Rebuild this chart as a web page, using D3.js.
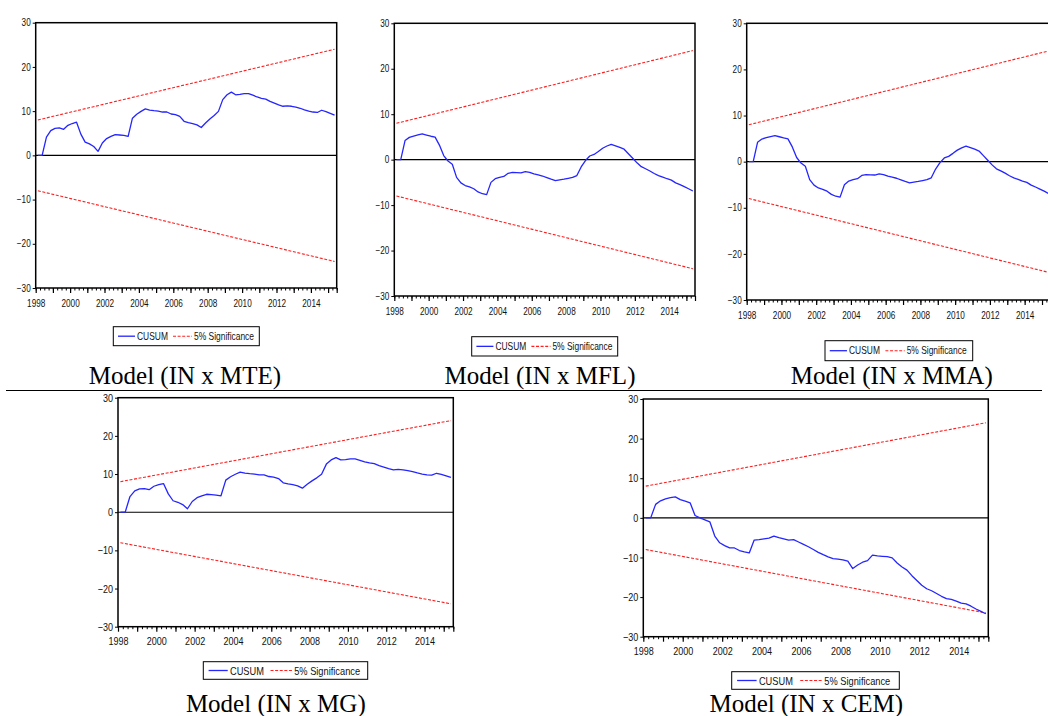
<!DOCTYPE html>
<html><head><meta charset="utf-8">
<script src="https://cdn.jsdelivr.net/npm/d3@7"></script>
<style>
body{margin:0;background:#fff}
svg{display:block}
.tk text,.lg text{font-family:"Liberation Sans",Arial,sans-serif;fill:#111}
.ttl{font-family:"Liberation Serif","Times New Roman",serif;fill:#000}
</style>
</head><body>
<svg id="c" width="1048" height="716"></svg>
<script>
// ---- data ----
const startYear = 1998, endYear = 2015.5;
// quarterly observations 1998Q1 .. 2015Q2 (plotted mid-quarter)
const quarterDates = d3.range(70).map(i => startYear + 0.125 + 0.25 * i);
const cusumMTE = [0,0,4.1,5.6,6.1,6.2,5.9,6.8,7.2,7.5,4.8,3.0,2.6,2.0,0.9,2.8,3.8,4.3,4.7,4.6,
  4.5,4.3,8.4,9.3,9.95,10.5,10.25,10.1,10.0,9.8,9.8,9.35,9.2,8.8,7.7,7.4,7.2,6.9,6.3,7.3,
  8.2,9.0,9.95,12.6,13.7,14.3,13.7,13.8,13.95,13.95,13.6,13.2,12.9,12.7,12.2,11.8,11.4,11.1,11.2,11.1,
  10.9,10.65,10.3,10.0,9.8,9.7,10.2,9.9,9.5,9.1];
const cusumMFL = [0,0,4.2,4.9,5.2,5.45,5.65,5.4,5.15,4.95,3.2,0.9,-0.3,-1.0,-3.9,-5.1,-5.7,-6.0,-6.4,-7.1,
  -7.5,-7.7,-5.0,-4.2,-3.9,-3.7,-3.0,-2.8,-2.85,-2.9,-2.65,-2.8,-3.15,-3.35,-3.6,-3.95,-4.3,-4.6,-4.45,-4.3,
  -4.1,-3.9,-3.5,-1.6,-0.2,0.8,1.15,1.8,2.5,3.0,3.35,3.05,2.7,2.3,1.3,0.3,-0.7,-1.55,-2.0,-2.5,
  -3.05,-3.5,-3.85,-4.2,-4.5,-5.1,-5.5,-5.95,-6.4,-6.9];
const cusumMMA = [0,0,4.2,4.9,5.2,5.45,5.65,5.4,5.15,4.95,3.2,0.9,-0.3,-1.0,-3.9,-5.1,-5.7,-6.0,-6.4,-7.1,
  -7.5,-7.7,-5.0,-4.2,-3.9,-3.7,-3.0,-2.8,-2.85,-2.9,-2.65,-2.8,-3.15,-3.35,-3.6,-3.95,-4.3,-4.6,-4.45,-4.3,
  -4.1,-3.9,-3.5,-1.6,-0.2,0.8,1.15,1.8,2.5,3.0,3.35,3.05,2.7,2.3,1.3,0.3,-0.7,-1.55,-2.0,-2.5,
  -3.05,-3.5,-3.85,-4.2,-4.5,-5.1,-5.5,-5.95,-6.4,-6.9];
const cusumMG = [0,0,4.1,5.6,6.1,6.2,5.9,6.8,7.2,7.5,4.8,3.0,2.6,2.0,0.9,2.8,3.8,4.3,4.7,4.6,
  4.5,4.3,8.4,9.3,9.95,10.5,10.25,10.1,10.0,9.8,9.8,9.35,9.2,8.8,7.7,7.4,7.2,6.9,6.3,7.3,
  8.2,9.0,9.95,12.6,13.7,14.3,13.7,13.8,13.95,13.95,13.6,13.2,12.9,12.7,12.2,11.8,11.4,11.1,11.2,11.1,
  10.9,10.65,10.3,10.0,9.8,9.7,10.2,9.9,9.5,9.1];
const cusumCEM = [0,0,3.4,4.3,4.8,5.1,5.3,4.6,4.2,3.8,0.6,0.0,-0.5,-1.0,-4.6,-6.3,-7.0,-7.6,-7.6,-8.25,
  -8.6,-8.85,-5.6,-5.5,-5.3,-5.1,-4.6,-5.0,-5.3,-5.6,-5.5,-6.1,-6.7,-7.3,-8.0,-8.7,-9.3,-9.85,-10.3,-10.4,
  -10.6,-10.9,-12.8,-11.9,-11.2,-10.8,-9.4,-9.6,-9.7,-9.8,-10.1,-11.4,-12.4,-13.2,-14.6,-15.8,-17.0,-17.9,-18.4,-19.1,
  -19.8,-20.4,-20.6,-21.0,-21.5,-21.7,-22.3,-23.0,-23.6,-24.2];
// 5% significance bounds: value at first and last observation
const bandFirst = 8, bandLast = 24;
const yTicks = [30, 20, 10, 0, -10, -20, -30];
const xTickLabels = [1998, 2000, 2002, 2004, 2006, 2008, 2010, 2012, 2014];
const titles = ["Model (IN x MTE)", "Model (IN x MFL)", "Model (IN x MMA)", "Model (IN x MG)", "Model (IN x CEM)"];
const legendLabels = ["CUSUM", "5% Significance"];

// ---- layout ----
const panels = [
  {title: titles[0], data: cusumMTE, x: 35.7, y: 22.7, w: 301, h: 265.3, fs: 10, lg: [113.3, 326.7, 146, 19], tx: 185, ty: 384},
  {title: titles[1], data: cusumMFL, x: 394.3, y: 23.3, w: 300.7, h: 272.7, fs: 10, lg: [471.7, 336.7, 146, 19.3], tx: 540, ty: 384},
  {title: titles[2], data: cusumMMA, x: 746.7, y: 23.3, w: 304, h: 276.7, fs: 10, lg: [825, 340.7, 147.7, 20], tx: 891.7, ty: 384},
  {title: titles[3], data: cusumMG, x: 118, y: 397.7, w: 335.3, h: 229, fs: 11, lg: [203.3, 661.7, 164.4, 17.6], tx: 275.8, ty: 712},
  {title: titles[4], data: cusumCEM, x: 643.3, y: 399, w: 345, h: 237.7, fs: 11, lg: [731.7, 671.7, 167.6, 17.6], tx: 806.3, ty: 712}
];
const BLUE = "#2525ff", RED = "#ff1f1f";
const NARROW = 0.82;

const svg = d3.select("#c");

// separator line
svg.append("line").attr("x1", 6).attr("x2", 1042).attr("y1", 390.5).attr("y2", 390.5)
  .attr("stroke", "#000").attr("stroke-width", 1.2);

panels.forEach(p => {
  const g = svg.append("g").attr("transform", `translate(${p.x},${p.y})`);
  const x = d3.scaleLinear().domain([startYear, endYear]).range([0, p.w]);
  const y = d3.scaleLinear().domain([-30, 30]).range([p.h, 0]);

  // y axis
  const ya = g.append("g").attr("class", "tk")
    .call(d3.axisLeft(y).tickValues(yTicks).tickSize(3).tickPadding(2).tickFormat(d3.format("d")));
  ya.select(".domain").remove();
  ya.selectAll("text").attr("font-size", p.fs).attr("font-family", null)
    .attr("x", 0).attr("transform", `translate(-5,0) scale(${NARROW},1)`);
  ya.selectAll("line").attr("stroke", "#000");

  // x axis: quarter ticks, year ticks, labels
  const quarterTicks = d3.range(Math.round((endYear - startYear) * 4) + 1).map(i => startYear + i * 0.25);
  const yearTicks = d3.range(startYear, Math.floor(endYear) + 1);
  const xa1 = g.append("g").attr("transform", `translate(0,${p.h})`)
    .call(d3.axisBottom(x).tickValues(quarterTicks).tickSize(2.5).tickFormat(""));
  xa1.select(".domain").remove();
  xa1.selectAll("line").attr("stroke", "#000");
  const xa2 = g.append("g").attr("transform", `translate(0,${p.h})`)
    .call(d3.axisBottom(x).tickValues(yearTicks.concat([endYear])).tickSize(5).tickFormat(""));
  xa2.select(".domain").remove();
  xa2.selectAll("line").attr("stroke", "#000").attr("stroke-width", 1.2);
  const xa3 = g.append("g").attr("class", "tk").attr("transform", `translate(0,${p.h})`)
    .call(d3.axisBottom(x).tickValues(xTickLabels).tickSize(5).tickPadding(p.fs === 10 ? 6.5 : 5.5).tickFormat(d3.format("d")));
  xa3.select(".domain").remove();
  xa3.selectAll("line").remove();
  xa3.selectAll("text").attr("font-size", p.fs).attr("font-family", null)
    .attr("transform", `scale(${NARROW},1)`);

  // clip for lines
  const cid = "clip" + Math.round(p.x);
  g.append("clipPath").attr("id", cid).append("rect").attr("width", p.w).attr("height", p.h);
  const inner = g.append("g").attr("clip-path", `url(#${cid})`);

  // zero line
  inner.append("line").attr("x1", 0).attr("x2", p.w).attr("y1", y(0)).attr("y2", y(0))
    .attr("stroke", "#000").attr("stroke-width", 1.1);

  // significance bounds
  const t0 = quarterDates[0], t1 = quarterDates[quarterDates.length - 1];
  const line = d3.line().x(d => x(d[0])).y(d => y(d[1]));
  [[[t0, bandFirst], [t1, bandLast]], [[t0, -bandFirst], [t1, -bandLast]]].forEach(b => {
    inner.append("path").attr("d", line(b)).attr("fill", "none")
      .attr("stroke", RED).attr("stroke-width", 1.1).attr("stroke-dasharray", "3,1.6");
  });

  // CUSUM
  inner.append("path").datum(p.data.map((v, i) => [quarterDates[i], v]))
    .attr("d", line).attr("fill", "none").attr("stroke", BLUE).attr("stroke-width", 1.3)
    .attr("stroke-linejoin", "round");

  // frame
  g.append("rect").attr("width", p.w).attr("height", p.h).attr("fill", "none")
    .attr("stroke", "#000").attr("stroke-width", 1.5);

  // legend
  const [lx, ly, lw, lh] = p.lg;
  const k = lw / 146;
  const lg = svg.append("g").attr("class", "lg").attr("transform", `translate(${lx},${ly})`);
  lg.append("rect").attr("width", lw).attr("height", lh).attr("fill", "#fff")
    .attr("stroke", "#000").attr("stroke-width", 1);
  const cy = lh / 2;
  lg.append("line").attr("x1", 4.7 * k).attr("x2", 21.7 * k).attr("y1", cy).attr("y2", cy)
    .attr("stroke", BLUE).attr("stroke-width", 1.3);
  lg.append("text").attr("transform", `translate(${23.7 * k},${cy}) scale(${NARROW},1)`).attr("dy", "0.36em")
    .attr("font-size", p.fs + 0.3).text(legendLabels[0]);
  lg.append("line").attr("x1", 59.7 * k).attr("x2", 78.7 * k).attr("y1", cy).attr("y2", cy)
    .attr("stroke", RED).attr("stroke-width", 1.1).attr("stroke-dasharray", "3,1.6");
  lg.append("text").attr("transform", `translate(${80.7 * k},${cy}) scale(${NARROW},1)`).attr("dy", "0.36em")
    .attr("font-size", p.fs + 0.3).text(legendLabels[1]);

  // title
  svg.append("text").attr("class", "ttl").attr("x", p.tx).attr("y", p.ty)
    .attr("text-anchor", "middle").attr("font-size", 25).text(p.title);
});
</script>
</body></html>
